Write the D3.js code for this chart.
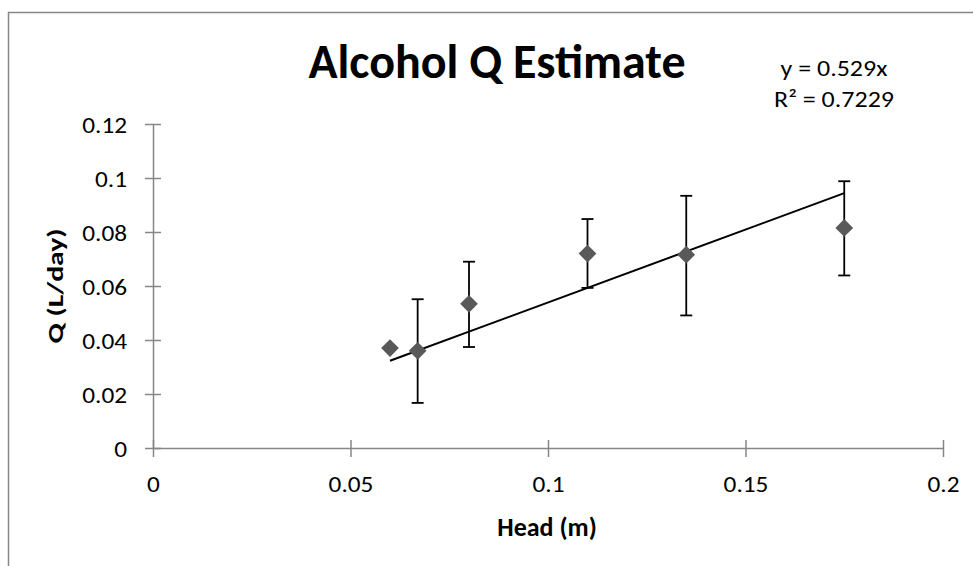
<!DOCTYPE html>
<html>
<head>
<meta charset="utf-8">
<script src="https://cdn.jsdelivr.net/npm/d3@7"></script>
<style>
  body { margin: 0; background: #fff; }
  text { font-family: Carlito, Calibri, Lato, "Open Sans", sans-serif; fill: #000; }
</style>
</head>
<body>
<div id="chart"></div>
<script>
// Alcohol Q estimate - scatter with error bars and linear trendline

const head = [0.06, 0.067, 0.08, 0.11, 0.135, 0.175];
const flow = [0.037, 0.036, 0.0534, 0.072, 0.0716, 0.0815];
const errLow = [0.037, 0.0167, 0.0374, 0.0593, 0.0491, 0.0639];
const errHigh = [0.037, 0.0551, 0.069, 0.0848, 0.0934, 0.0988];
const hasErr = [false, true, true, true, true, true];

const xTicks = [0, 0.05, 0.1, 0.15, 0.2];
const yTicks = [0, 0.02, 0.04, 0.06, 0.08, 0.1, 0.12];

// trendline end points as drawn in the picture
const trendX = [0.06, 0.175];
const trendY = [0.0323, 0.0944];
const trendLabel = ["y = 0.529x", "R² = 0.7229"];

const width = 973;
const height = 566;
const tickStretch = 1.1; // reference text is a bit wide

const svg = d3.select("#chart")
    .append("svg")
    .attr("width", width)
    .attr("height", height);

// chart border (runs off the right and bottom edges)
svg.append("rect")
    .attr("x", 8.5)
    .attr("y", 12.5)
    .attr("width", 1000)
    .attr("height", 600)
    .attr("fill", "none")
    .attr("stroke", "#868686")
    .attr("stroke-width", 1.5);

const x = d3.scaleLinear().domain([0, 0.2]).range([153, 943]);
const y = d3.scaleLinear().domain([0, 0.12]).range([448, 124]);

const axisColor = "#868686";

// y axis
const yAxis = svg.append("g")
    .attr("transform", `translate(${x(0)},0)`)
    .call(d3.axisLeft(y).tickValues(yTicks).tickSize(0).tickFormat(d3.format("")));
yAxis.select(".domain").attr("stroke", axisColor).attr("stroke-width", 1.5);
yAxis.selectAll(".tick text")
    .attr("x", -26 / tickStretch)
    .attr("dy", "0.35em")
    .attr("transform", `scale(${tickStretch},1)`)
    .style("font-size", "23px");
yAxis.selectAll(".tick").append("line")
    .attr("x1", -8).attr("x2", 8)
    .attr("stroke", axisColor).attr("stroke-width", 1.5);

// x axis
const xAxis = svg.append("g")
    .attr("transform", `translate(0,${y(0)})`)
    .call(d3.axisBottom(x).tickValues(xTicks).tickSize(0).tickFormat(d3.format("")));
xAxis.select(".domain").attr("stroke", axisColor).attr("stroke-width", 1.5);
xAxis.selectAll(".tick text")
    .attr("y", 44)
    .attr("dy", 0)
    .attr("transform", `scale(${tickStretch},1)`)
    .style("font-size", "23px");
xAxis.selectAll(".tick").append("line")
    .attr("y1", -8).attr("y2", 9)
    .attr("stroke", axisColor).attr("stroke-width", 1.5);
svg.selectAll(".tick text").attr("fill", "#000");

// trendline
svg.append("line")
    .attr("x1", x(trendX[0])).attr("y1", y(trendY[0]))
    .attr("x2", x(trendX[1])).attr("y2", y(trendY[1]))
    .attr("stroke", "#000")
    .attr("stroke-width", 2);

const pts = head.map((h, i) => ({ h, q: flow[i], lo: errLow[i], hi: errHigh[i], err: hasErr[i] }));

// error bars
const eb = svg.selectAll(".err")
    .data(pts.filter(d => d.err))
    .enter()
    .append("g")
    .attr("class", "err")
    .attr("stroke", "#000")
    .attr("stroke-width", 1.8);
eb.append("line")
    .attr("x1", d => x(d.h)).attr("x2", d => x(d.h))
    .attr("y1", d => y(d.lo)).attr("y2", d => y(d.hi));
eb.append("line")
    .attr("x1", d => x(d.h) - 6).attr("x2", d => x(d.h) + 6)
    .attr("y1", d => y(d.lo)).attr("y2", d => y(d.lo));
eb.append("line")
    .attr("x1", d => x(d.h) - 6).attr("x2", d => x(d.h) + 6)
    .attr("y1", d => y(d.hi)).attr("y2", d => y(d.hi));

// markers
svg.selectAll(".pt")
    .data(pts)
    .enter()
    .append("path")
    .attr("class", "pt")
    .attr("d", d3.symbol().type(d3.symbolDiamond2).size(200))
    .attr("transform", d => `translate(${x(d.h)},${y(d.q)})`)
    .attr("fill", "#595959");

// title
svg.append("text")
    .attr("x", 497)
    .attr("y", 78)
    .attr("text-anchor", "middle")
    .style("font-size", "48px")
    .style("font-weight", "bold")
    .text("Alcohol Q Estimate");

// trendline equation
svg.selectAll(".eq")
    .data(trendLabel)
    .enter()
    .append("text")
    .attr("class", "eq")
    .attr("transform", (d, i) => `translate(834,${76 + i * 31}) scale(1.13,1)`)
    .attr("text-anchor", "middle")
    .style("font-size", "23px")
    .text(d => d);

// axis titles
svg.append("text")
    .attr("x", 547)
    .attr("y", 536)
    .attr("text-anchor", "middle")
    .style("font-size", "26px")
    .style("font-weight", "bold")
    .text("Head (m)");

svg.append("text")
    .attr("transform", "translate(63,286) rotate(-90) scale(1.35,1)")
    .attr("text-anchor", "middle")
    .style("font-size", "22px")
    .style("font-weight", "bold")
    .text("Q (L/day)");
</script>
</body>
</html>
